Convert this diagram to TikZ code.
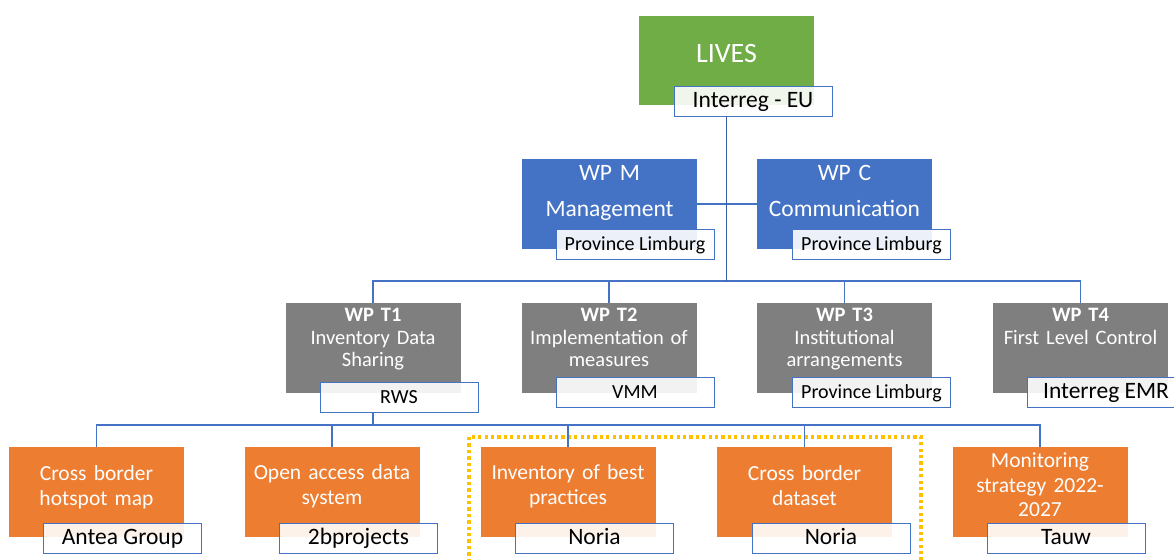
\documentclass[tikz,border=0pt]{standalone}
\usepackage{fontspec}
\setmainfont{Carlito}

\definecolor{livesgreen}{HTML}{70AD47}
\definecolor{wpblue}{HTML}{4472C4}
\definecolor{trunkblue}{HTML}{3A5DA8}
\definecolor{wpgray}{HTML}{7F7F7F}
\definecolor{taskorange}{HTML}{ED7D31}
\definecolor{focusyellow}{HTML}{FFC000}

\tikzset{
	box/.style={minimum width=175pt,minimum height=90pt,inner sep=0pt},
	livesbox/.style={box,fill=livesgreen,minimum height=89pt},
	wpbox/.style={box,fill=wpblue},
	wptbox/.style={box,fill=wpgray},
	taskbox/.style={box,fill=taskorange},
	boxtext/.style={text=white,text width=175pt,align=center,inner sep=0pt,anchor=base},
	partner/.style={draw=wpblue,line width=1pt,fill=white,fill opacity=.9,text opacity=1,
		minimum width=158pt,minimum height=30pt,inner sep=0pt,text height=16pt,text depth=4pt,
		font=\fontsize{23.5}{28}\selectfont},
	partnersm/.style={partner,font=\fontsize{20}{24}\selectfont},
	link/.style={draw=wpblue,line width=1.2pt},
	trunk/.style={draw=trunkblue,line width=1.8pt},
	focus/.style={draw=focusyellow,line width=3.3pt,dash pattern=on 3.3pt off 3.1pt}
}

\begin{document}
\begin{tikzpicture}[x=1pt,y=-1pt]
\useasboundingbox (0,0) rectangle (1174,559);
\clip (0,0) rectangle (1174,559);

% project
\node[livesbox] (lives) at (726.5,60.5) {};
\node[boxtext,font=\fontsize{28}{34}\selectfont] (livestxt) at ([yshift=-47pt]lives.north) {LIVES};

% management and communication
\node[wpbox] (wpm) at (609.5,204) {};
\node[wpbox] (wpc) at (844.5,204) {};
\node[boxtext,font=\fontsize{23.5}{36}\selectfont] (wpmtxt) at ([yshift=-22pt]wpm.north) {WP M\\Management};
\node[boxtext,font=\fontsize{23.5}{36}\selectfont] (wpctxt) at ([yshift=-22pt]wpc.north) {WP C\\Communication};

% technical work packages
\node[wptbox] (t1) at (373,348) {};
\node[wptbox] (t2) at (609,348) {};
\node[wptbox] (t3) at (844.5,348) {};
\node[wptbox] (t4) at (1080.5,348) {};
\begin{scope}[every node/.style={boxtext,font=\fontsize{20.5}{22.5}\selectfont}]
	\node (t1txt) at ([yshift=-19pt]t1.north) {\textbf{WP T1}\\Inventory Data\\Sharing};
	\node (t2txt) at ([yshift=-19pt]t2.north) {\textbf{WP T2}\\Implementation of\\measures};
	\node (t3txt) at ([yshift=-19pt]t3.north) {\textbf{WP T3}\\Institutional\\arrangements};
	\node (t4txt) at ([yshift=-19pt]t4.north) {\textbf{WP T4}\\First Level Control};
\end{scope}

% tasks of WP T1
\foreach \n/\x in {b1/96.5,b2/332,b3/568,b4/804.5,b5/1040}
	\node[taskbox] (\n) at (\x,492) {};
\begin{scope}[every node/.style={boxtext,font=\fontsize{21.5}{24.5}\selectfont}]
	\node (b1txt) at ([yshift=-34pt]b1.north) {Cross border\\hotspot map};
	\node (b2txt) at ([yshift=-33pt]b2.north) {Open access data\\system};
	\node (b3txt) at ([yshift=-33pt]b3.north) {Inventory of best\\practices};
	\node (b4txt) at ([yshift=-34pt]b4.north) {Cross border\\dataset};
	\node (b5txt) at ([yshift=-21pt]b5.north) {Monitoring\\strategy 2022-\\2027};
\end{scope}

\draw[focus] (469,437) rectangle (921,580);

% connectors
\coordinate (tbus) at (726.5,281);
\coordinate (bbus) at (373,425);
\draw[link] (wpm) -- (wpc);
\draw[link] (t1) |- (tbus) -| (t4);
\foreach \n in {t2,t3}
	\draw[link] (\n) -- (\n |- tbus);
\draw[link] (b1) |- (bbus) -| (b5);
\foreach \n in {b2,b3,b4}
	\draw[link] (\n) -- (\n |- bbus);

% partners
\node[partner] (lorg) at ([xshift=26.5pt,yshift=4pt]lives.south) {Interreg - EU};
\node[partnersm] (morg) at ([xshift=25.5pt,yshift=4.5pt]wpm.south) {Province Limburg};
\node[partnersm] (corg) at ([xshift=27pt,yshift=4.5pt]wpc.south) {Province Limburg};
\node[partnersm] (t1org) at ([xshift=26pt,yshift=-4pt]t1.south) {RWS};
\node[partnersm] (t2org) at ([xshift=26pt,yshift=.5pt]t2.south) {VMM};
\node[partnersm] (t3org) at ([xshift=27pt,yshift=1pt]t3.south) {Province Limburg};
\node[partner] (t4org) at ([xshift=25.5pt,yshift=1pt]t4.south) {Interreg EMR};
\node[partner] (b1org) at ([xshift=26pt,yshift=-1.5pt]b1.south) {Antea Group};
\node[partner] (b2org) at ([xshift=26.5pt,yshift=-1.5pt]b2.south) {2bprojects};
\node[partner] (b3org) at ([xshift=26.5pt,yshift=-1.5pt]b3.south) {Noria};
\node[partner] (b4org) at ([xshift=26.5pt,yshift=-1.5pt]b4.south) {Noria};
\node[partner] (b5org) at ([xshift=26pt,yshift=-1.5pt]b5.south) {Tauw};

\draw[trunk] (lives.south |- lorg.south) -- (tbus);
\draw[link] (t1 |- t1org.south) -- (t1 |- bbus);
\end{tikzpicture}
\end{document}
